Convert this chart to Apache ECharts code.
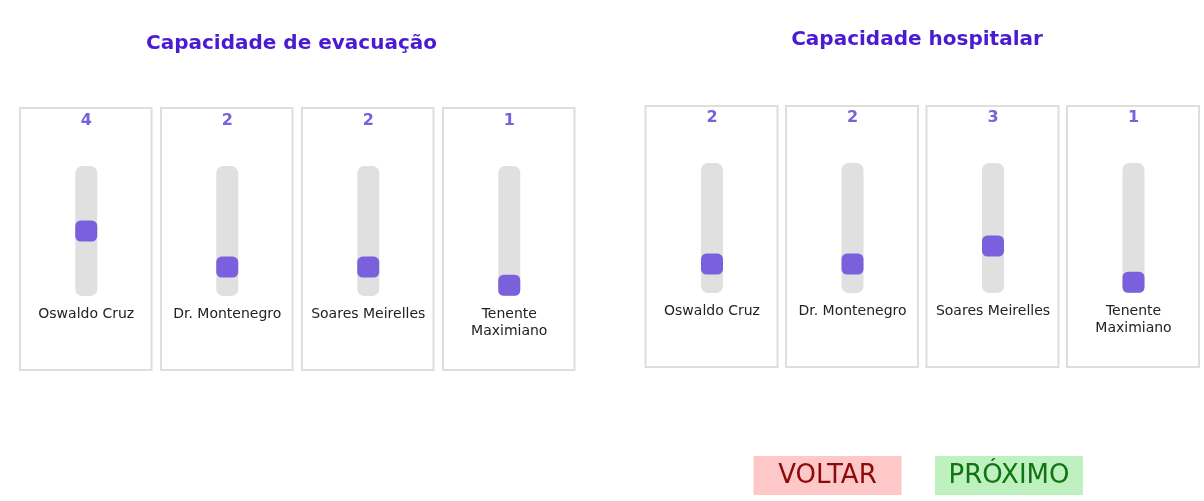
<!DOCTYPE html>
<html style="height: 100%">
<head>
  <meta charset="utf-8">
  <title>Capacidade</title>
</head>
<body style="height: 100%; margin: 0; background: #fff">
  <div id="container" style="width: 1204px; height: 501px"></div>
  <script src="https://cdn.jsdelivr.net/npm/echarts@6/dist/echarts.min.js"></script>
  <script>
    // dados
    const unidades = ['Oswaldo Cruz', 'Dr. Montenegro', 'Soares Meirelles', 'Tenente\nMaximiano'];
    const evacuacao = [4, 2, 2, 1];
    const hospitalar = [2, 2, 3, 1];
    const sliderMin = 1;
    const sliderMax = 7;
    const titulos = ['Capacidade de evacuação', 'Capacidade hospitalar'];
    const botoes = ['VOLTAR', 'PRÓXIMO'];

    const font = 'DejaVu Sans';
    const roxo = '#7a60dc';
    const pad = 0.6; // meia altura do cursor, em unidades

    // layout de cada painel
    const paineis = [
      { valores: evacuacao, boxLeft: 20, step: 141, boxW: 131.5, boxTop: 108, boxH: 262, trackTop: 166, titleX: 291.5, titleY: 44 },
      { valores: hospitalar, boxLeft: 645.5, step: 140.5, boxW: 132, boxTop: 106, boxH: 261, trackTop: 163, titleX: 917, titleY: 40 }
    ];
    const trackW = 22, trackH = 130;

    const grid = [], xAxis = [], yAxis = [], series = [], graphic = [];
    let g = 0;
    paineis.forEach((p, pi) => {
      graphic.push({
        type: 'text', x: p.titleX, y: p.titleY,
        style: { text: titulos[pi], font: 'bold 20px "' + font + '"', fill: '#4a1bd0', textAlign: 'center', textVerticalAlign: 'middle' }
      });
      p.valores.forEach((v, j) => {
        const bl = p.boxLeft + p.step * j;
        graphic.push({
          type: 'rect', z: -1,
          shape: { x: bl, y: p.boxTop, width: p.boxW, height: p.boxH },
          style: { fill: '#fff', stroke: '#dedede', lineWidth: 2 }
        });
        const cx = bl + p.boxW / 2 + 0.5;
        grid.push({ left: cx - trackW / 2, top: p.trackTop, width: trackW, height: trackH });
        // eixo de baixo: nome da unidade
        xAxis.push({
          type: 'category', gridIndex: g, position: 'bottom', data: [unidades[j]],
          axisLine: { show: false }, axisTick: { show: false }, splitLine: { show: false },
          axisLabel: { margin: 10, fontFamily: font, fontSize: 14, lineHeight: 17, color: '#222', interval: 0 }
        });
        // eixo de cima: valor
        xAxis.push({
          type: 'category', gridIndex: g, position: 'top', data: [String(v)],
          axisLine: { show: false }, axisTick: { show: false }, splitLine: { show: false },
          axisLabel: { margin: 37, fontFamily: font, fontSize: 16, fontWeight: 'bold', lineHeight: 16, color: roxo }
        });
        yAxis.push({
          type: 'value', gridIndex: g, min: sliderMin - pad, max: sliderMax + pad, show: false
        });
        series.push({
          type: 'bar', xAxisIndex: 2 * g, yAxisIndex: g, data: [v], barWidth: trackW,
          itemStyle: { opacity: 0 }, showBackground: true,
          backgroundStyle: { color: '#e0e0e0', borderRadius: 7 }, silent: true
        });
        series.push({
          type: 'scatter', xAxisIndex: 2 * g, yAxisIndex: g, data: [v],
          symbol: 'roundRect', symbolSize: [trackW, 21], itemStyle: { color: roxo, opacity: 1 }, silent: true
        });
        g++;
      });
    });

    // botoes
    const btn = [
      { x: 753.5, fill: '#ffc8c8', color: '#8b0a0a' },
      { x: 935, fill: '#bff0c0', color: '#107510' }
    ];
    btn.forEach((b, i) => {
      graphic.push({
        type: 'group', x: b.x, y: 456,
        children: [
          { type: 'rect', shape: { x: 0, y: 0, width: 148, height: 39 }, style: { fill: b.fill } },
          { type: 'text', x: 74, y: 20.5, style: { text: botoes[i], font: '26px "' + font + '"', fill: b.color, textAlign: 'center', textVerticalAlign: 'middle' } }
        ]
      });
    });

    const chart = echarts.init(document.getElementById('container'));
    chart.setOption({
      animation: false,
      backgroundColor: '#fff',
      grid, xAxis, yAxis, series, graphic
    });
  </script>
</body>
</html>
